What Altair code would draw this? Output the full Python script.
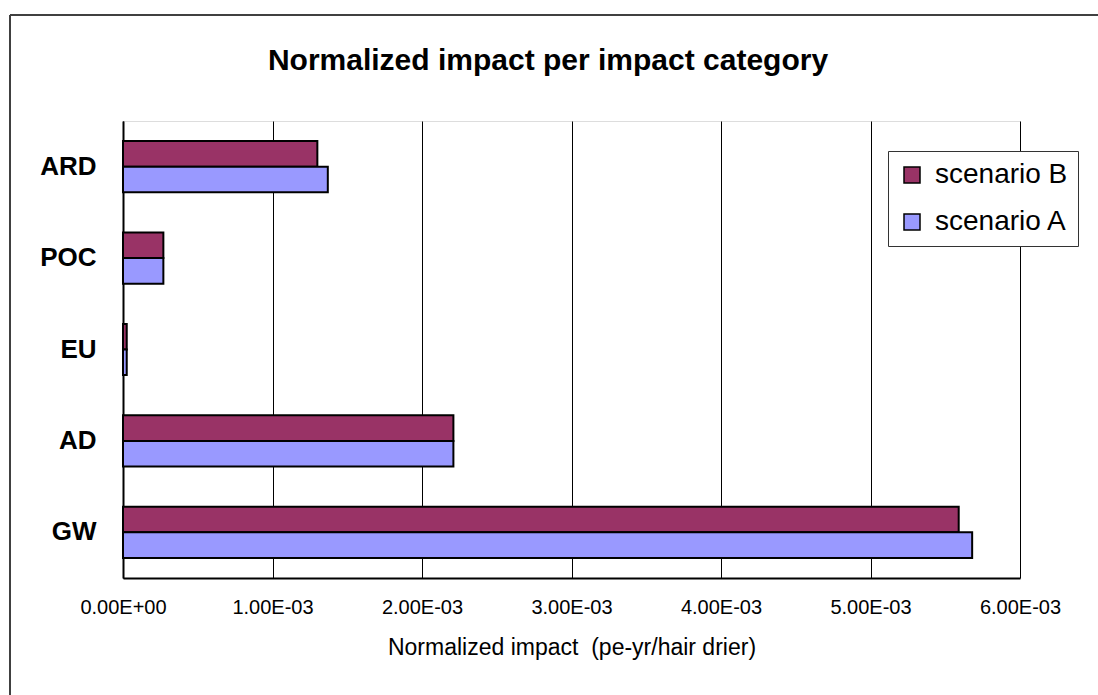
import altair as alt
import pandas as pd

# Impact categories, top to bottom
categories = ["ARD", "POC", "EU", "AD", "GW"]
scenarios = ["scenario B", "scenario A"]

# Normalized impact (pe-yr / hair drier)
scenario_b = [1.30e-3, 0.27e-3, 0.025e-3, 2.21e-3, 5.59e-3]
scenario_a = [1.37e-3, 0.27e-3, 0.025e-3, 2.21e-3, 5.68e-3]

tick_values = [0.0, 0.001, 0.002, 0.003, 0.004, 0.005, 0.006]
colors = ["#993366", "#9999FF"]

chart_title = "Normalized impact per impact category"

rows = []
for cat, b, a in zip(categories, scenario_b, scenario_a):
    rows.append({"category": cat, "scenario": "scenario B", "value": b})
    rows.append({"category": cat, "scenario": "scenario A", "value": a})
df = pd.DataFrame(rows)

FONT = "Liberation Sans"

bars = alt.Chart(df).mark_bar(stroke="black", strokeWidth=2).encode(
    x=alt.X(
        "value:Q",
        scale=alt.Scale(domain=[0, 0.006], nice=False),
        axis=alt.Axis(
            values=tick_values,
            labelExpr="datum.value == 0 ? '0.00E+00' : format(datum.value * 1000, '.2f') + 'E-03'",
            title="Normalized impact \u00a0(pe-yr/hair drier)",
            titleFontSize=23,
            titleFontWeight="normal",
            titleFont=FONT,
            titlePadding=19,
            labelFontSize=20,
            labelFont=FONT,
            labelPadding=19,
            labelColor="black",
            titleColor="black",
            ticks=False,
            grid=True,
            gridColor="black",
            gridWidth=1,
            domainColor="black",
            domainWidth=2,
            labelFlush=False,
        ),
    ),
    y=alt.Y(
        "category:N",
        sort=categories,
        scale=alt.Scale(paddingInner=0.44, paddingOuter=0.22),
        axis=alt.Axis(
            title=None,
            labelFontSize=26,
            labelFontWeight="bold",
            labelFont=FONT,
            labelColor="black",
            labelPadding=27,
            ticks=False,
            grid=False,
            domainColor="black",
            domainWidth=2,
        ),
    ),
    yOffset=alt.YOffset("scenario:N", sort=scenarios, scale=alt.Scale(paddingInner=0, paddingOuter=0)),
    color=alt.Color(
        "scenario:N",
        sort=scenarios,
        scale=alt.Scale(domain=scenarios, range=colors),
        legend=alt.Legend(
            title=None,
            orient="none",
            legendX=765,
            legendY=30,
            symbolType="square",
            symbolSize=256,
            symbolStrokeColor="black",
            symbolStrokeWidth=1.5,
            symbolOpacity=1,
            labelFontSize=28,
            labelFont=FONT,
            labelColor="black",
            labelOffset=9,
            rowPadding=19,
            padding=10,
            strokeColor="#333333",
            fillColor="white",
        ),
    ),
)

single = pd.DataFrame({"label": [chart_title]})

# Outer chart frame (left and top edges)
frame_left = alt.Chart(single).mark_rule(color="#404040", strokeWidth=2).encode(
    x=alt.value(-113), y=alt.value(-106), y2=alt.value(600)
)
frame_top = alt.Chart(single).mark_rule(color="#404040", strokeWidth=2).encode(
    x=alt.value(-113), x2=alt.value(1000), y=alt.value(-106)
)

# Chart heading, centred over the frame
heading = alt.Chart(single).mark_text(
    font=FONT, fontSize=30, fontWeight="bold", color="black",
    align="center", baseline="middle",
).encode(
    x=alt.value(425), y=alt.value(-60), text="label:N"
)

chart = alt.layer(bars, frame_left, frame_top, heading).properties(
    width=897,
    height=457,
    autosize=alt.AutoSizeParams(type="none"),
    padding={"left": 123, "top": 121, "right": 78, "bottom": 117},
).configure_view(
    stroke="#8c8c8c", strokeWidth=2
).configure(background="white")

chart.save("out.html", embed_options={"renderer": "svg", "actions": False})
